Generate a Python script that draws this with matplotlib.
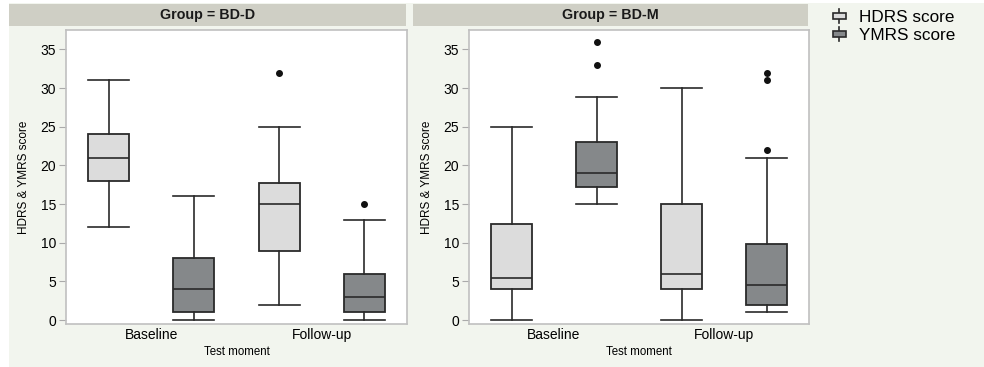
import numpy as np
import matplotlib
matplotlib.use("Agg")
import matplotlib.pyplot as plt
from matplotlib.patches import Rectangle
from matplotlib.lines import Line2D
from matplotlib.legend_handler import HandlerBase

plt.rcParams['font.family'] = ['Liberation Sans', 'DejaVu Sans']

# --- data ---
groups = ["BD-D", "BD-M"]
moments = ["Baseline", "Follow-up"]
series = ["HDRS score", "YMRS score"]

# per group: [Baseline HDRS, Baseline YMRS, Follow-up HDRS, Follow-up YMRS]
# each stat: (whislo, q1, med, q3, whishi)
stats_bdd = [
    (12, 18, 21, 24, 31),
    (0, 1, 4, 8, 16),
    (2, 9, 15, 17.7, 25),
    (0, 1, 3, 6, 13),
]
fliers_bdd = [[], [], [32], [15]]

stats_bdm = [
    (0, 4, 5.5, 12.4, 25),
    (15, 17.2, 19, 23, 28.9),
    (0, 4, 6, 15, 30),
    (1, 2, 4.5, 9.8, 21),
]
fliers_bdm = [[], [33, 36], [], [22, 31, 32]]

fills = ["#dcdcdc", "#85888a"]
edge = "#2a2a2a"
bg = "#f2f5ee"
strip = "#cfcfc5"

W, H = 984, 367
fig = plt.figure(figsize=(W / 100, H / 100), dpi=100, facecolor="white")
fig.patches.append(Rectangle((9 / W, 0), 1, 1 - 3 / H, transform=fig.transFigure,
                             facecolor=bg, edgecolor="none", zorder=-10))


def px_axes(x0, y0, x1, y1):
    return [x0 / W, 1 - y1 / H, (x1 - x0) / W, (y1 - y0) / H]


def draw_panel(ax_rect, strip_rect, title, stats, fliers):
    sx = fig.add_axes(px_axes(*strip_rect))
    sx.set_facecolor(strip)
    sx.set_xticks([]); sx.set_yticks([])
    for s in sx.spines.values():
        s.set_visible(False)
    sx.text(0.5, 0.5, title, ha="center", va="center", fontsize=10.3,
            fontweight="bold", color="#1a1a1a", transform=sx.transAxes)

    ax = fig.add_axes(px_axes(*ax_rect))
    ax.set_facecolor("white")
    bxp = []
    positions = []
    for i, (st, fl) in enumerate(zip(stats, fliers)):
        lo, q1, med, q3, hi = st
        bxp.append(dict(whislo=lo, q1=q1, med=med, q3=q3, whishi=hi, fliers=fl))
        positions.append(i // 2 + (-0.25 if i % 2 == 0 else 0.25))
    art = ax.bxp(bxp, positions=positions, widths=0.24, patch_artist=True,
                 showfliers=True,
                 boxprops=dict(edgecolor=edge, linewidth=1.3),
                 medianprops=dict(color=edge, linewidth=1.2),
                 whiskerprops=dict(color=edge, linewidth=1.2),
                 capprops=dict(color=edge, linewidth=1.2),
                 flierprops=dict(marker="o", markersize=4, markerfacecolor="#111111",
                                 markeredgecolor="#111111"))
    for i, b in enumerate(art["boxes"]):
        b.set_facecolor(fills[i % 2])
    for c in art["caps"]:
        x = c.get_xdata()
        mid = (x[0] + x[1]) / 2
        c.set_xdata([mid - 0.12, mid + 0.12])

    ax.set_xlim(-0.5, 1.5)
    ax.set_ylim(-0.5, 37.5)
    ax.set_yticks(range(0, 36, 5))
    ax.set_xticks([0, 1])
    ax.set_xticklabels(moments, fontsize=10)
    ax.tick_params(axis="y", labelsize=10, length=5, color="#aaaaaa", pad=2)
    ax.tick_params(axis="x", length=0, pad=3)
    for s in ax.spines.values():
        s.set_color("#c0c0c0")
        s.set_linewidth(1.2)
    ax.set_ylabel("HDRS & YMRS score", fontsize=8.5, labelpad=8)
    ax.set_xlabel("Test moment", fontsize=8.3, labelpad=3)
    return ax


draw_panel((66, 30, 407, 324), (9, 4, 406, 26), "Group = BD-D", stats_bdd, fliers_bdd)
draw_panel((469, 30, 809, 324), (413, 4, 808, 26), "Group = BD-M", stats_bdm, fliers_bdm)


class BoxGlyph(HandlerBase):
    def __init__(self, color):
        super().__init__()
        self.color = color

    def create_artists(self, legend, orig_handle, xdescent, ydescent, width, height,
                       fontsize, trans):
        cx = width / 2 - xdescent
        cy = height / 2 - ydescent
        line = Line2D([cx, cx], [cy - 5, cy + 5], color=edge, lw=1.2, transform=trans)
        box = Rectangle((cx - 4.7, cy - 2.2), 9.4, 4.4, facecolor=self.color, edgecolor=edge,
                        lw=1.2, transform=trans)
        return [line, box]


h1, h2 = Rectangle((0, 0), 1, 1), Rectangle((0, 0), 1, 1)
fig.legend([h1, h2], series, loc="upper left", bbox_to_anchor=(822 / W, 1 - 3 / H),
           frameon=False, fontsize=12.3, handlelength=1.2, handletextpad=0.55,
           labelspacing=0.2, borderaxespad=0,
           handler_map={h1: BoxGlyph(fills[0]), h2: BoxGlyph(fills[1])})

fig.savefig("out.png", dpi=100, facecolor="white")
